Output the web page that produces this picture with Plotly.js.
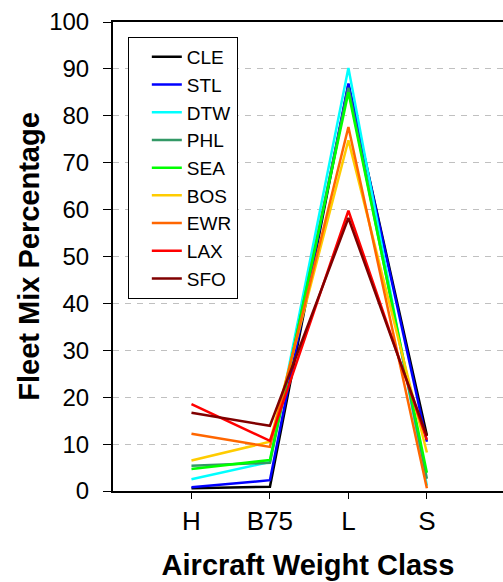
<!DOCTYPE html>
<html>
<head>
<meta charset="utf-8">
<script src="https://cdn.plot.ly/plotly-3.0.1.min.js"></script>
<style>html,body{margin:0;padding:0;background:#fff;}#chart{width:503px;height:582px;}</style>
</head>
<body>
<div id="chart"></div>
<script>
const categories = ['H', 'B75', 'L', 'S'];
const airports = ['CLE', 'STL', 'DTW', 'PHL', 'SEA', 'BOS', 'EWR', 'LAX', 'SFO'];
const CLE = [0.6, 0.9, 86.6, 11.9];
const STL = [0.8, 2.3, 86.9, 10.5];
const DTW = [2.5, 6.2, 90.2, 1.1];
const PHL = [5.4, 6.0, 86.0, 2.6];
const SEA = [4.7, 6.6, 85.0, 3.9];
const BOS = [6.5, 10.5, 74.8, 8.2];
const EWR = [12.2, 9.4, 77.6, 0.6];
const LAX = [18.5, 10.7, 59.8, 10.9];
const SFO = [16.7, 13.9, 58.2, 11.7];
const seriesValues = [CLE, STL, DTW, PHL, SEA, BOS, EWR, LAX, SFO];
const colors = ['#000000', '#0000FF', '#00FFFF', '#339966', '#00FF00', '#FFCC00', '#FF6600', '#FF0000', '#800000'];

const font = 'Liberation Sans, Arial, sans-serif';
const traces = airports.map((name, i) => ({
  x: categories,
  y: seriesValues[i],
  name: name,
  type: 'scatter',
  mode: 'lines',
  line: {color: colors[i], width: 2.5}
}));

const layout = {
  width: 503, height: 582,
  margin: {l: 113, r: 0, t: 22, b: 91},
  paper_bgcolor: '#fff', plot_bgcolor: '#fff',
  font: {family: font, color: '#000'},
  showlegend: true,
  legend: {
    x: 0.038, y: 0.968, xanchor: 'left', yanchor: 'top',
    bgcolor: '#fff', bordercolor: '#000', borderwidth: 1,
    font: {family: font, size: 19, color: '#000'},
    indentation: 18,
    tracegroupgap: 0
  },
  xaxis: {
    type: 'category',
    range: [-1, 3.97],
    showline: true, linecolor: '#000', linewidth: 2, mirror: true,
    ticks: 'outside', ticklen: 6, tickcolor: '#000', tickwidth: 1,
    showgrid: false, zeroline: false,
    tickfont: {family: font, size: 26, color: '#000'},
    title: {text: '<b>Aircraft Weight Class</b>', font: {family: font, size: 29, color: '#000'}, standoff: 19}
  },
  yaxis: {
    range: [0, 100],
    tickvals: [0,10,20,30,40,50,60,70,80,90,100],
    showline: true, linecolor: '#000', linewidth: 2,
    ticks: 'outside', ticklen: 8, tickcolor: '#000', tickwidth: 1,
    ticklabelstandoff: 9,
    showgrid: true, gridcolor: '#c0c0c0', griddash: '6px,6px', gridwidth: 1,
    zeroline: false,
    tickfont: {family: font, size: 24, color: '#000'},
    title: {text: '<b>Fleet Mix Percentage</b>', font: {family: font, size: 29, color: '#000'}, standoff: 1}
  }
};

Plotly.newPlot('chart', traces, layout, {displayModeBar: false, staticPlot: true});
</script>
</body>
</html>
